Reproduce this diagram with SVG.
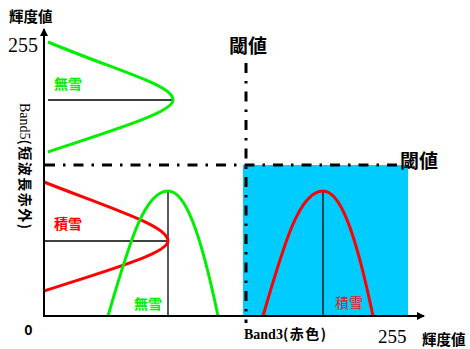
<svg xmlns="http://www.w3.org/2000/svg" width="470" height="349" viewBox="0 0 470 349">
<style>
.jp{font-family:"Noto Sans CJK JP","Noto Sans",sans-serif;font-weight:bold}
.lat{font-family:"Liberation Serif","Noto Sans CJK JP",serif}
.ax{stroke:#000;stroke-width:2;fill:none}
.dd{stroke:#000;stroke-width:3;fill:none;stroke-dasharray:10 8 2.5 8}
.thin{stroke:#000;stroke-width:1.3;fill:none}
.g{stroke:#00ee00;stroke-width:3;fill:none}
.r{stroke:#ff0000;stroke-width:3;fill:none}
</style>
<defs>
<marker id="arr" markerWidth="8" markerHeight="8" refX="7" refY="4" orient="auto" markerUnits="userSpaceOnUse">
<path d="M0,0 L8,4 L0,8 Z" fill="#000"/>
</marker>
</defs>
<rect width="470" height="349" fill="#fff"/>
<rect id="snow-region" x="243" y="165" width="165" height="151" fill="#00ccff"/>
<g id="guides">
<line class="thin" x1="48" y1="100" x2="173" y2="100"/>
<line class="thin" x1="44" y1="241" x2="168" y2="241"/>
<line class="thin" x1="168" y1="191" x2="168" y2="316"/>
<line class="thin" x1="323" y1="191" x2="323" y2="316"/>
</g>
<g id="curves">
<path class="g" d="M48,42 C120,72 173,85 173,100 C173,112 120,128 48,152"/>
<path class="r" d="M44,182 C115,210 168,226 168,241 C168,253 115,268 44,291"/>
<path class="g" d="M108,316 C130,240 145,191 168,191 C185,191 200,230 218,316"/>
<path class="r" d="M263,316 C285,240 300,191 323,191 C340,191 355,230 373,316"/>
</g>
<g id="thresholds">
<line class="dd" x1="45" y1="165" x2="400" y2="165"/>
<line class="dd" x1="246" y1="63" x2="246" y2="323"/>
</g>
<g id="axes">
<line class="ax" x1="44" y1="317" x2="44" y2="29" marker-end="url(#arr)"/>
<line class="ax" x1="43" y1="316" x2="424" y2="316" marker-end="url(#arr)"/>
</g>
<g id="labels">
<text class="jp" x="9" y="21.5" font-size="14.5">輝度値</text>
<text class="lat" x="8" y="52" font-size="20">255</text>
<text class="jp" x="28.5" y="335" font-size="14" text-anchor="middle" font-family="Liberation Sans">0</text>
<text class="lat" x="378" y="343" font-size="19">255</text>
<text class="jp" x="422" y="345" font-size="14.5">輝度値</text>
<text x="244" y="339" font-size="14"><tspan class="lat" font-weight="bold">Band3</tspan><tspan class="jp" letter-spacing="1.5">(赤色)</tspan></text>
<text transform="translate(20,103) rotate(90)" font-size="14"><tspan class="lat">Band5</tspan><tspan class="jp" letter-spacing="1.5">(短波長赤外)</tspan></text>
<text class="jp" x="229" y="53" font-size="19">閾値</text>
<text class="jp" x="400" y="168" font-size="19">閾値</text>
<text class="jp" x="54" y="89" font-size="14" fill="#00ee00">無雪</text>
<text class="jp" x="54" y="229" font-size="14" fill="#ff0000">積雪</text>
<text class="jp" x="134" y="309" font-size="14" fill="#00ee00">無雪</text>
<text x="335" y="308" font-size="14" fill="#dd2222" font-family="Noto Sans CJK JP, sans-serif">積雪</text>
</g>
</svg>
